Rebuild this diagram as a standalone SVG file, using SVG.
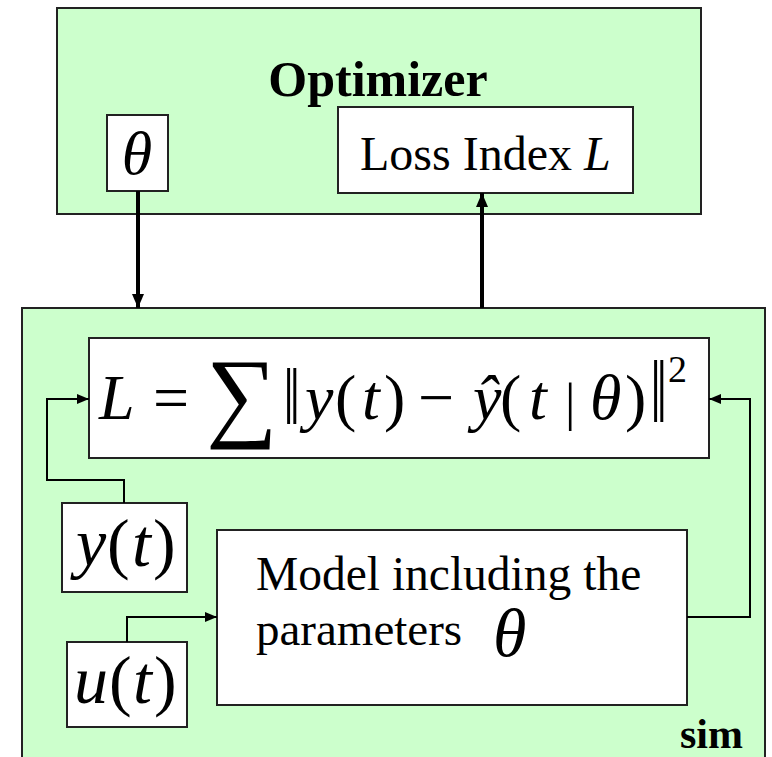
<svg xmlns="http://www.w3.org/2000/svg" width="772" height="757" viewBox="0 0 772 757">
<style>
.box{fill:#ccffcc;stroke:#222;stroke-width:2}
.wbox{fill:#fff;stroke:#222;stroke-width:2}
text{font-family:'Liberation Serif','Times New Roman',Times,serif;fill:#000}
.i{font-style:italic}
.n{font-style:normal}
.b{font-weight:bold}
.thick{stroke:#000;stroke-width:4;fill:none}
.thin{stroke:#000;stroke-width:2;fill:none}
</style>
<defs>
<marker id="ah" markerUnits="userSpaceOnUse" markerWidth="14" markerHeight="12" refX="14" refY="6" orient="auto"><path d="M0,0 L14,6 L0,12 z" fill="#000"/></marker>
<marker id="as" markerUnits="userSpaceOnUse" markerWidth="12" markerHeight="10" refX="12" refY="5" orient="auto"><path d="M0,0 L12,5 L0,10 z" fill="#000"/></marker>
</defs>
<g id="optimizer">
<rect class="box" x="57" y="8" width="644" height="206"/>
<text class="b" x="378" y="96" font-size="50" text-anchor="middle">Optimizer</text>
</g>
<g id="theta">
<rect class="wbox" x="107" y="115" width="61" height="76"/>
<text class="i" x="137" y="174" font-size="62" text-anchor="middle">θ</text>
</g>
<g id="loss">
<rect class="wbox" x="338" y="107" width="295" height="86"/>
<text x="360" y="170" font-size="48">Loss Index <tspan class="i">L</tspan></text>
</g>
<g id="sim">
<rect class="box" x="22" y="308" width="743" height="470"/>
<text class="b" x="743" y="748" font-size="42" text-anchor="end">sim</text>
</g>
<g id="formula">
<rect class="wbox" x="89" y="338" width="620" height="120"/>
<text font-size="64" y="419"><tspan class="i" x="99">L</tspan><tspan x="153">=</tspan><tspan class="i" x="305">y</tspan><tspan x="335">(</tspan><tspan class="i" x="362">t</tspan><tspan x="384">)</tspan><tspan x="418">−</tspan><tspan class="i" x="473">ŷ</tspan><tspan x="500">(</tspan><tspan class="i" x="529">t</tspan><tspan class="i" x="590">θ</tspan><tspan x="625">)</tspan></text>
<text font-size="52" x="565" y="420">|</text>
<text font-size="100" x="206" y="428">∑</text>
<text font-size="62" x="283" y="424" transform="translate(0,-127.2) scale(1,1.3)">‖</text>
<text font-size="62" x="650" y="422.5" transform="translate(0,-185.9) scale(1,1.44)">‖</text>
<text font-size="38" x="668" y="382">2</text>
</g>
<g id="yt">
<rect class="wbox" x="62" y="503" width="125" height="89"/>
<text font-size="68" y="566"><tspan class="i" x="76">y</tspan><tspan x="107">(</tspan><tspan class="i" x="132">t</tspan><tspan x="153">)</tspan></text>
</g>
<g id="ut">
<rect class="wbox" x="67" y="642" width="120" height="85"/>
<text font-size="68" y="703"><tspan class="i" x="74">u</tspan><tspan x="109">(</tspan><tspan class="i" x="133">t</tspan><tspan x="154">)</tspan></text>
</g>
<g id="model">
<rect class="wbox" x="217" y="530" width="470" height="175"/>
<text font-size="47.5" x="256" y="590">Model including the</text>
<text font-size="47" x="256" y="645">parameters</text>
<text class="i" font-size="68" x="493" y="656">θ</text>
</g>
<g id="connectors">
<path class="thick" d="M138,191 V308" marker-end="url(#ah)"/>
<path class="thick" d="M482,308 V193" marker-end="url(#ah)"/>
<path class="thin" d="M124,503 V480 H47 V399 H89" marker-end="url(#as)"/>
<path class="thin" d="M127,642 V617 H217" marker-end="url(#as)"/>
<path class="thin" d="M687,617 H750 V399 H709" marker-end="url(#as)"/>
</g>
</svg>
